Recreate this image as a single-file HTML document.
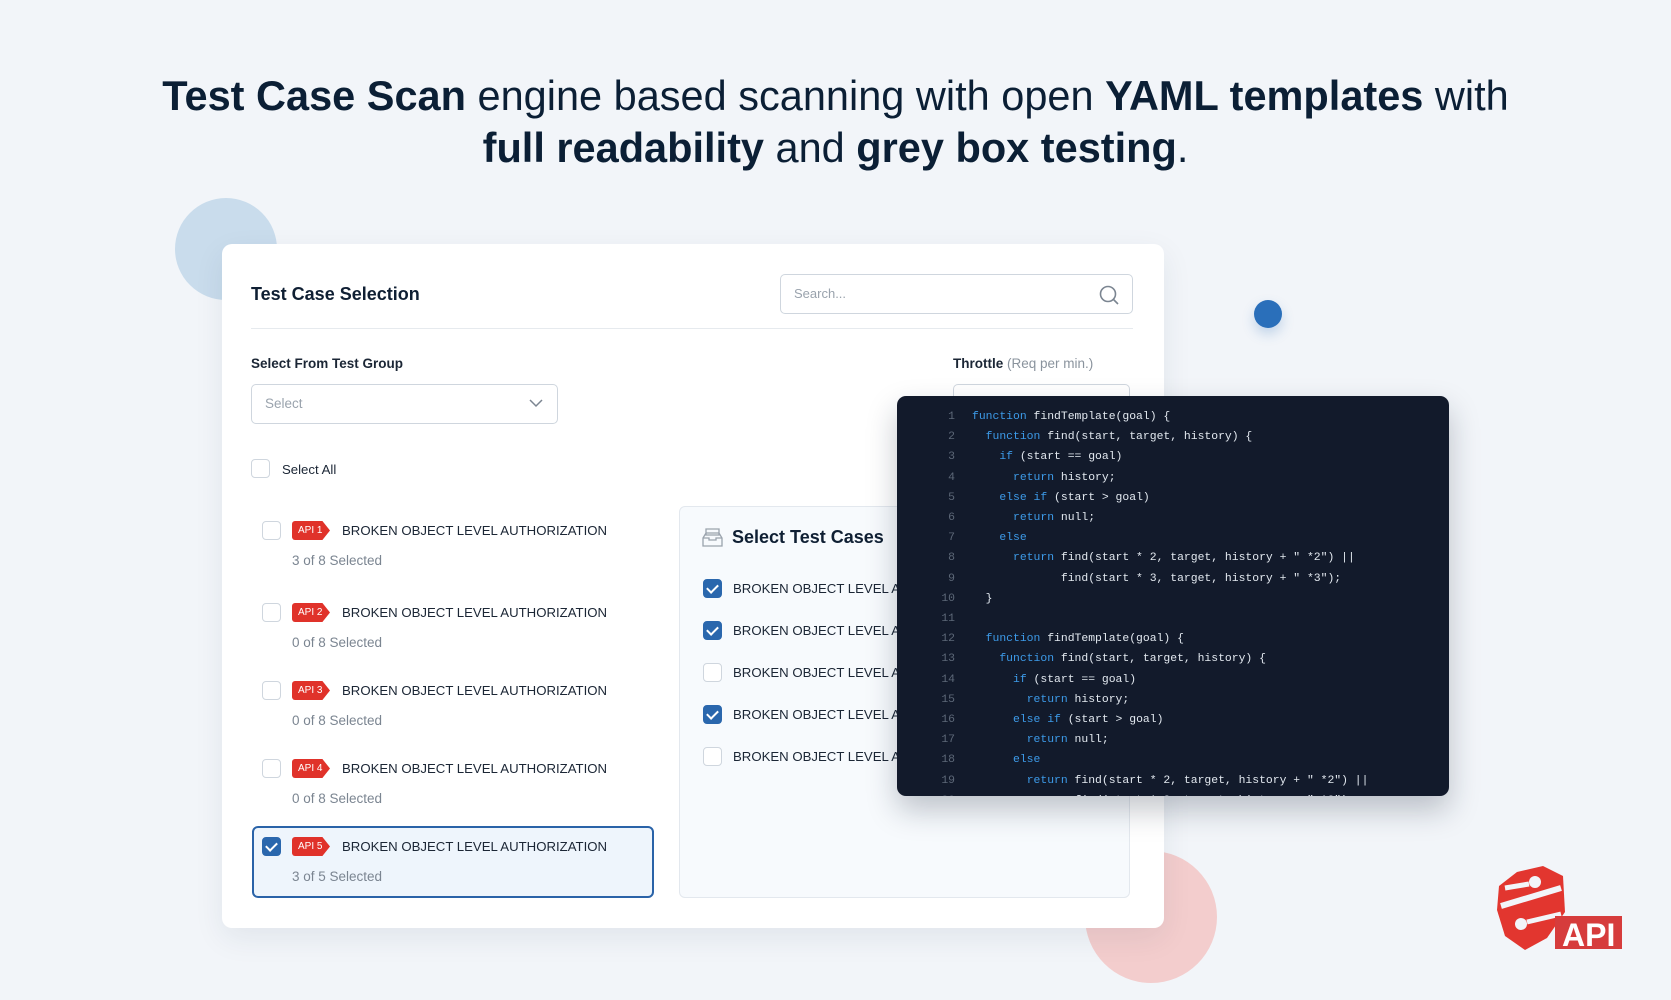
<!DOCTYPE html>
<html><head><meta charset="utf-8"><style>
*{margin:0;padding:0;box-sizing:border-box}
body{width:1671px;height:1000px;background:#f2f5f9;position:relative;overflow:hidden;font-family:"Liberation Sans",sans-serif;color:#0f1f33}
.a{position:absolute}
.h{left:0;width:1671px;text-align:center;font-size:41.5px;color:#0b1f35;line-height:52px;white-space:nowrap}
.h b{font-weight:700}
.cb{position:absolute;width:19px;height:19px;border:1.5px solid #cfd6de;border-radius:4px;background:#fff}
.cb.on{background:#2a67ad;border-color:#2a67ad}
.cb.on:after{content:"";position:absolute;left:5px;top:2px;width:5px;height:9px;border:solid #fff;border-width:0 2px 2px 0;transform:rotate(45deg)}
.badge{position:absolute;height:19px;width:38px;background:#e0322a;color:#fff;font-size:10px;line-height:19px;padding-left:6px;border-radius:3px 0 0 3px;clip-path:polygon(0 0,80% 0,100% 50%,80% 100%,0 100%)}
.it{position:absolute;font-size:13.2px;color:#1b2635;white-space:nowrap}
.sub{position:absolute;font-size:13.5px;color:#7b8591;white-space:nowrap}
.code{font-family:"Liberation Mono",monospace;font-size:11.4px;color:#e3e9f0;white-space:pre;line-height:20.2px}
.code .n{color:#5d6878;display:inline-block;width:28px;text-align:right;margin-right:17px}
.code .k{color:#3d9be9}
</style></head><body>
<div class="a h" style="top:70px"><b>Test Case Scan</b> engine based scanning with open <b>YAML templates</b> with</div>
<div class="a h" style="top:122px"><b>full readability</b> and <b>grey box testing</b>.</div>

<div class="a" style="left:175px;top:198px;width:102px;height:102px;border-radius:50%;background:#c9dcec"></div>
<div class="a" style="left:1254px;top:300px;width:28px;height:28px;border-radius:50%;background:#2a6fba;box-shadow:0 6px 12px rgba(42,111,186,.25)"></div>
<div class="a" style="left:1085px;top:851px;width:132px;height:132px;border-radius:50%;background:#f3cdcd"></div>

<div class="a" style="left:222px;top:244px;width:942px;height:684px;background:#fff;border-radius:10px;box-shadow:0 10px 30px rgba(30,50,80,.08)"></div>
<div class="a" style="left:251px;top:284px;font-size:18px;font-weight:700;color:#0f1f33">Test Case Selection</div>
<div class="a" style="left:780px;top:274px;width:353px;height:40px;border:1px solid #cfd6de;border-radius:5px;background:#fff"></div>
<div class="a" style="left:794px;top:286px;font-size:13px;color:#9aa3ad">Search...</div>
<svg class="a" style="left:1098px;top:284px" width="22" height="22" viewBox="0 0 22 22"><circle cx="10" cy="10" r="7.5" fill="none" stroke="#7b8591" stroke-width="1.6"/><line x1="15.5" y1="15.5" x2="20" y2="20" stroke="#7b8591" stroke-width="1.6"/></svg>
<div class="a" style="left:251px;top:328px;width:882px;height:1px;background:#e6eaee"></div>

<div class="a" style="left:251px;top:356px;font-size:13.5px;font-weight:700;color:#1b2635">Select From Test Group</div>
<div class="a" style="left:953px;top:356px;font-size:13.5px;color:#1b2635"><b>Throttle</b> <span style="color:#8a939d">(Req per min.)</span></div>
<div class="a" style="left:251px;top:384px;width:307px;height:40px;border:1px solid #cfd6de;border-radius:5px"></div>
<div class="a" style="left:265px;top:396px;font-size:13.5px;color:#9aa3ad">Select</div>
<svg class="a" style="left:529px;top:398px" width="14" height="10"><polyline points="1,2 7,8 13,2" fill="none" stroke="#7b8591" stroke-width="1.5"/></svg>
<div class="a" style="left:953px;top:384px;width:177px;height:30px;border:1px solid #cfd6de;border-bottom:none;border-radius:5px 5px 0 0"></div>

<div class="cb" style="left:251px;top:459px"></div>
<div class="it" style="left:282px;top:462px">Select All</div>

<div class="a" style="left:252px;top:826px;width:402px;height:72px;border:2px solid #2a63a8;border-radius:6px;background:#eef5fc"></div>

<div class="cb" style="left:262px;top:521px"></div><div class="badge" style="left:292px;top:521px">API 1</div><div class="it" style="left:342px;top:523px">BROKEN OBJECT LEVEL AUTHORIZATION</div><div class="sub" style="left:292px;top:553px">3 of 8 Selected</div>
<div class="cb" style="left:262px;top:603px"></div><div class="badge" style="left:292px;top:603px">API 2</div><div class="it" style="left:342px;top:605px">BROKEN OBJECT LEVEL AUTHORIZATION</div><div class="sub" style="left:292px;top:635px">0 of 8 Selected</div>
<div class="cb" style="left:262px;top:681px"></div><div class="badge" style="left:292px;top:681px">API 3</div><div class="it" style="left:342px;top:683px">BROKEN OBJECT LEVEL AUTHORIZATION</div><div class="sub" style="left:292px;top:713px">0 of 8 Selected</div>
<div class="cb" style="left:262px;top:759px"></div><div class="badge" style="left:292px;top:759px">API 4</div><div class="it" style="left:342px;top:761px">BROKEN OBJECT LEVEL AUTHORIZATION</div><div class="sub" style="left:292px;top:791px">0 of 8 Selected</div>
<div class="cb on" style="left:262px;top:837px"></div><div class="badge" style="left:292px;top:837px">API 5</div><div class="it" style="left:342px;top:839px">BROKEN OBJECT LEVEL AUTHORIZATION</div><div class="sub" style="left:292px;top:869px">3 of 5 Selected</div>

<div class="a" style="left:679px;top:506px;width:451px;height:392px;background:#f7fafd;border:1px solid #e3e8ee;border-radius:6px"></div>
<svg class="a" style="left:702px;top:527px" width="21" height="21" viewBox="0 0 21 21"><path d="M4 2h13v6H4z M1 11l3-5h13l3 5v8H1z M1 11h6v2h7v-2h6" fill="none" stroke="#9aa3ad" stroke-width="1.3"/></svg>
<div class="a" style="left:732px;top:527px;font-size:18px;font-weight:700;color:#0f1f33">Select Test Cases</div>
<div class="cb on" style="left:703px;top:579px"></div><div class="it" style="left:733px;top:581px">BROKEN OBJECT LEVEL AUTHORIZATION</div>
<div class="cb on" style="left:703px;top:621px"></div><div class="it" style="left:733px;top:623px">BROKEN OBJECT LEVEL AUTHORIZATION</div>
<div class="cb" style="left:703px;top:663px"></div><div class="it" style="left:733px;top:665px">BROKEN OBJECT LEVEL AUTHORIZATION</div>
<div class="cb on" style="left:703px;top:705px"></div><div class="it" style="left:733px;top:707px">BROKEN OBJECT LEVEL AUTHORIZATION</div>
<div class="cb" style="left:703px;top:747px"></div><div class="it" style="left:733px;top:749px">BROKEN OBJECT LEVEL AUTHORIZATION</div>

<div class="a" style="left:897px;top:396px;width:552px;height:400px;background:#121a2b;border-radius:9px;box-shadow:0 14px 30px rgba(20,30,50,.25);overflow:hidden">
<div class="code" style="position:absolute;left:30px;top:11px"><span class="n">1</span><span class="k">function</span> findTemplate(goal) {
<span class="n">2</span>  <span class="k">function</span> find(start, target, history) {
<span class="n">3</span>    <span class="k">if</span> (start == goal)
<span class="n">4</span>      <span class="k">return</span> history;
<span class="n">5</span>    <span class="k">else if</span> (start &gt; goal)
<span class="n">6</span>      <span class="k">return</span> null;
<span class="n">7</span>    <span class="k">else</span>
<span class="n">8</span>      <span class="k">return</span> find(start * 2, target, history + " *2") ||
<span class="n">9</span>             find(start * 3, target, history + " *3");
<span class="n">10</span>  }
<span class="n">11</span>
<span class="n">12</span>  <span class="k">function</span> findTemplate(goal) {
<span class="n">13</span>    <span class="k">function</span> find(start, target, history) {
<span class="n">14</span>      <span class="k">if</span> (start == goal)
<span class="n">15</span>        <span class="k">return</span> history;
<span class="n">16</span>      <span class="k">else if</span> (start &gt; goal)
<span class="n">17</span>        <span class="k">return</span> null;
<span class="n">18</span>      <span class="k">else</span>
<span class="n">19</span>        <span class="k">return</span> find(start * 2, target, history + " *2") ||
<span class="n">20</span>               find(start * 3, target, history + " *3");</div>
</div>

<svg class="a" style="left:1495px;top:866px" width="130" height="86" viewBox="0 0 130 86">
<path d="M22 6 L48 0 L68 10 L70 46 L52 72 L30 84 L10 70 L2 44 L4 20 Z" fill="#e2362f"/>
<path d="M6 40 L66 22" stroke="#f2f5f9" stroke-width="6"/>
<circle cx="40" cy="16" r="6" fill="#f2f5f9"/><line x1="10" y1="22" x2="34" y2="18" stroke="#f2f5f9" stroke-width="5"/>
<circle cx="26" cy="58" r="6" fill="#f2f5f9"/><line x1="32" y1="56" x2="66" y2="48" stroke="#f2f5f9" stroke-width="5"/>
<rect x="60" y="50" width="67" height="33" fill="#d63c3c"/>
<text x="67" y="80" font-family="Liberation Sans" font-weight="700" font-size="32" fill="#fff">API</text>
</svg>
</body></html>
